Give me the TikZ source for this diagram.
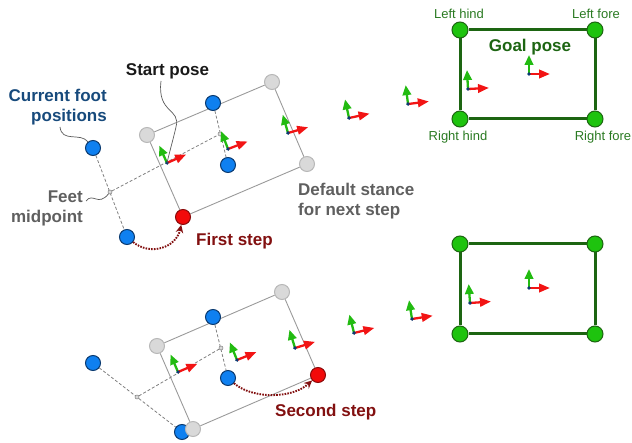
\documentclass[tikz,border=0pt]{standalone}
\usepackage{fontspec}
\setmainfont{Liberation Sans}
\usetikzlibrary{arrows.meta}
\pgfdeclarelayer{bg}
\pgfsetlayers{bg,main}
\definecolor{footblue}{HTML}{0F80F0}
\definecolor{footedge}{HTML}{0A3A70}
\definecolor{graybody}{HTML}{D9D9D9}
\definecolor{grayedge}{HTML}{B8B8B8}
\definecolor{stepred}{HTML}{F20A0A}
\definecolor{stepedge}{HTML}{8A0A0A}
\definecolor{goalgreen}{HTML}{1EC30E}
\definecolor{goaldark}{HTML}{1D6512}
\definecolor{goaltext}{HTML}{2A7A22}
\definecolor{labelblue}{HTML}{174A7C}
\definecolor{labelgray}{HTML}{5F5F5F}
\definecolor{labelred}{HTML}{821010}
\definecolor{axisred}{HTML}{F21414}
\definecolor{axisgreen}{HTML}{22BB11}
\definecolor{axisnavy}{HTML}{0B3A73}
\definecolor{linegray}{HTML}{9A9A9A}
\tikzset{
  foot/.style={circle, minimum size=15pt, inner sep=0pt, line width=1pt},
  bluefoot/.style={foot, fill=footblue, draw=footedge},
  grayfoot/.style={foot, fill=graybody, draw=grayedge},
  redfoot/.style={foot, fill=stepred, draw=stepedge},
  goalfoot/.style={foot, minimum size=16pt, fill=goalgreen, draw=goaldark},
  middot/.style={circle, minimum size=4pt, inner sep=0pt, fill=graybody, draw=gray, line width=0.5pt},
  stance/.style={draw=linegray, line width=0.9pt},
  feetline/.style={draw=gray, dash pattern=on 3pt off 2pt, line width=0.8pt},
  goalline/.style={draw=goaldark, line width=3pt},
  leader/.style={draw=black!65, line width=0.7pt},
  steparrow/.style={draw=labelred, line width=1.9pt, dash pattern=on 1.6pt off 1.2pt, -{Stealth[length=8pt,width=7.5pt]}},
  lbl/.style={inner sep=0pt, font=\fontsize{17}{20}\selectfont\bfseries},
  cornerlbl/.style={inner sep=0pt, anchor=base, text=goaltext, font=\fontsize{13}{15}\selectfont},
  poseaxes/.pic={
    \draw[axisgreen, line width=2.3pt, -{Triangle[length=10pt,width=8.5pt]}] (0,0) -- (0,-19);
    \draw[axisred, line width=2.3pt, -{Triangle[length=11pt,width=8.5pt]}] (0,0) -- (21,0);
    \fill[axisnavy] (0,0) circle (1.9);
  }
}
\begin{document}
\begin{tikzpicture}[x=1pt,y=-1pt]
\useasboundingbox (0,0) rectangle (632,443);
% ---------- top: feet ----------
\node[grayfoot] (tgl) at (147,135) {};
\node[grayfoot] (tgt) at (272,82) {};
\node[grayfoot] (tgr) at (307,164) {};
\node[redfoot] (tred) at (183,217) {};
\node[bluefoot] (tbt) at (213,103) {};
\node[bluefoot] (tbm) at (228,165) {};
\node[bluefoot] (tbl) at (93,148) {};
\node[bluefoot] (tbb) at (127,237) {};
\node[middot] (tm1) at (110,192) {};
\node[middot] (tm2) at (220,134) {};
\coordinate (tspo) at (167,163);
\begin{pgfonlayer}{bg}
  \draw[stance] (tgl) -- (tgt) -- (tgr) -- (tred) -- (tgl);
  \draw[feetline] (tbl) -- (tbb);
  \draw[feetline] (tbt) -- (tbm);
  \draw[feetline] (tm1) -- (tm2);
\end{pgfonlayer}
\pic[rotate=24] at (tspo) {poseaxes};
\pic[rotate=21] at (228,149) {poseaxes};
\pic[rotate=16] at (288,133) {poseaxes};
\pic[rotate=12] at (349,118) {poseaxes};
\pic[rotate=7] at (408,104) {poseaxes};
\draw[steparrow] (tbb) .. controls (150,256) and (176,248) .. (tred);
% ---------- top: goal ----------
\node[goalfoot] (glh) at (460,30) {};
\node[goalfoot] (glf) at (595,30) {};
\node[goalfoot] (grh) at (460,119) {};
\node[goalfoot] (grf) at (595,119) {};
\begin{pgfonlayer}{bg}
  \draw[goalline] (glh) -- (glf) -- (grf) -- (grh) -- (glh);
\end{pgfonlayer}
\pic[rotate=3] at (468,89) {poseaxes};
\pic at (529,74) {poseaxes};
\node[cornerlbl] (tlh) at (459,18.5) {Left hind};
\node[cornerlbl] (tlf) at (596,18.5) {Left fore};
\node[cornerlbl] (trh) at (458,141) {Right hind};
\node[cornerlbl] (trf) at (603,141) {Right fore};
\node[lbl, anchor=base, text=goaldark] (tgoal) at (530,51.5) {Goal pose};
% ---------- labels ----------
\node[lbl, anchor=base east, align=right, text=labelblue] (tcur) at (107,121.7) {Current foot\\positions};
\node[lbl, anchor=base, text=black!90] (tstart) at (167.5,76) {Start pose};
\node[lbl, anchor=base east, align=right, text=labelgray] (tfeet) at (83,223) {Feet\\midpoint};
\node[lbl, anchor=base west, align=left, text=labelgray] (tdef) at (298,215.5) {Default stance\\for next step};
\node[lbl, anchor=base west, text=labelred] (tfirst) at (196,245.7) {First step};
\coordinate (cfl) at (60,127);
\coordinate (spl) at (161,81);
\coordinate (fml) at (86,201);
\draw[leader] (cfl) .. controls (62,143) and (80,132) .. (tbl);
\draw[leader] (spl) .. controls (157,114) and (181,108) .. (176,127) .. controls (173,140) and (170,150) .. (tspo);
\draw[leader] (fml) .. controls (93,192) and (98,207) .. (tm1);
% ---------- bottom: feet ----------
\node[grayfoot] (bgl) at (157,346) {};
\node[grayfoot] (bgt) at (282,292) {};
\node[redfoot] (bred) at (318,375) {};
\node[bluefoot] (bbb) at (182,432) {};
\node[grayfoot] (bgb) at (193,429) {};
\node[bluefoot] (bbt) at (213,317) {};
\node[bluefoot] (bbm) at (228,378) {};
\node[bluefoot] (bbl) at (93,363) {};
\node[middot] (bm1) at (137,397) {};
\node[middot] (bm2) at (221,348) {};
\begin{pgfonlayer}{bg}
  \draw[stance] (bgl) -- (bgt) -- (bred) -- (bgb) -- (bgl);
  \draw[feetline] (bbl) -- (bbb);
  \draw[feetline] (bbt) -- (bbm);
  \draw[feetline] (bm1) -- (bm2);
\end{pgfonlayer}
\pic[rotate=23] at (178,372) {poseaxes};
\pic[rotate=22] at (237,360) {poseaxes};
\pic[rotate=17] at (295,348) {poseaxes};
\pic[rotate=14] at (354,333) {poseaxes};
\pic[rotate=9] at (412,319) {poseaxes};
\draw[steparrow] (bbm) .. controls (252,399) and (292,399) .. (bred);
% ---------- bottom: goal ----------
\node[goalfoot] (blh) at (460,244) {};
\node[goalfoot] (blf) at (595,244) {};
\node[goalfoot] (brh) at (460,334) {};
\node[goalfoot] (brf) at (595,334) {};
\begin{pgfonlayer}{bg}
  \draw[goalline] (blh) -- (blf) -- (brf) -- (brh) -- (blh);
\end{pgfonlayer}
\pic[rotate=4] at (470,303) {poseaxes};
\pic at (529,288) {poseaxes};
\node[lbl, anchor=base west, text=labelred] (bsecond) at (275,417) {Second step};
\end{tikzpicture}
\end{document}
